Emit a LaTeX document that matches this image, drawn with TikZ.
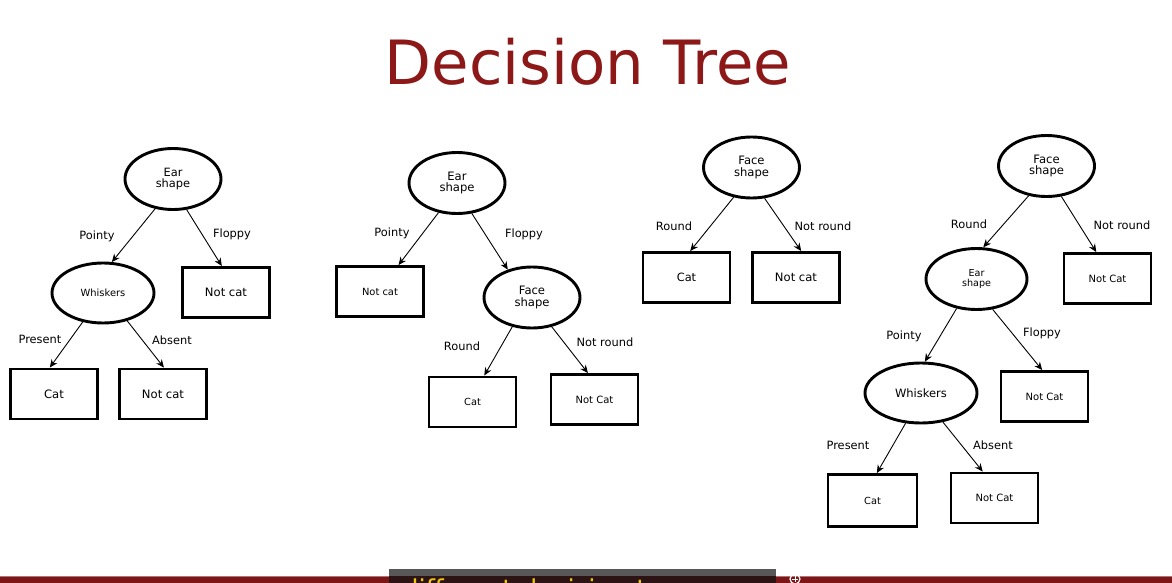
\documentclass[tikz,border=0pt]{standalone}
\usepackage{fontspec}
\setmainfont{DejaVu Sans}
\usetikzlibrary{shapes.geometric,arrows.meta}
\definecolor{titlered}{RGB}{140,24,24}
\definecolor{barred}{RGB}{125,22,22}
\definecolor{subdark}{RGB}{45,20,20}
\definecolor{subgrey}{RGB}{88,88,88}
\definecolor{subyellow}{RGB}{240,196,20}
\newcommand{\fs}[1]{\fontsize{#1}{\fpeval{#1*1.2}}\selectfont}
\tikzset{
  decision/.style={ellipse, draw, line width=2.9pt, minimum width=96pt, minimum height=61pt,
    inner sep=0pt, align=center, text=black},
  leafbox/.style={rectangle, draw, line width=2.9pt, minimum width=87pt, minimum height=50pt,
    inner sep=0pt, align=center, text=black},
  branch/.style={draw, line width=0.9pt, -{Stealth[length=8pt,width=7pt]}},
  edgelabel/.style={font=\fs{11.4}, text=black, inner sep=0pt}
}
\begin{document}
\begin{tikzpicture}[x=1pt,y=-1pt]
\useasboundingbox (0,0) rectangle (1172,583);
\fill[white] (0,0) rectangle (1172,583);

% heading
\node[text=titlered, font=\fs{61}, inner sep=0pt] (title) at (588,62) {Decision Tree};

% ---------- tree 1 ----------
\node[decision, font=\fs{11.4}] (e1) at (173,179) {Ear\\[-2pt]shape};
\node[decision, font=\fs{9.9}, minimum width=102pt, minimum height=60pt] (w1) at (103,293) {Whiskers};
\node[leafbox, font=\fs{11.6}] (n1) at (226,292.5) {Not cat};
\node[leafbox, font=\fs{11.6}] (c1) at (54,394) {Cat};
\node[leafbox, font=\fs{11.6}] (n1b) at (163,394) {Not cat};
\draw[branch] (e1.239) -- (w1.74);
\draw[branch] (e1.294) -- (n1.99);
\draw[branch] (w1.235) -- (c1.99);
\draw[branch] (w1.311) -- (n1b.88);
\node[edgelabel] (l1a) at (97,236) {Pointy};
\node[edgelabel] (l1b) at (232,234) {Floppy};
\node[edgelabel] (l1c) at (40,339) {Present};
\node[edgelabel] (l1d) at (172,340) {Absent};

% ---------- tree 2 ----------
\node[decision, font=\fs{11.6}] (e2) at (457,183) {Ear\\[-2pt]shape};
\node[leafbox, font=\fs{9.9}] (n2) at (380,291.5) {Not cat};
\node[decision, font=\fs{11.6}] (f2) at (532,297.5) {Face\\[-2pt]shape};
\node[leafbox, font=\fs{9.8}] (c2) at (472.5,402) {Cat};
\node[leafbox, font=\fs{10}] (n2b) at (594.5,399.5) {Not Cat};
\draw[branch] (e2.238) -- (n2.55);
\draw[branch] (e2.296) -- (f2.131);
\draw[branch] (f2.236) -- (c2.66);
\draw[branch] (f2.304) -- (n2b.104);
\node[edgelabel] (l2a) at (392,233) {Pointy};
\node[edgelabel] (l2b) at (524,234) {Floppy};
\node[edgelabel] (l2c) at (462,346) {Round};
\node[edgelabel] (l2d) at (605,342) {Not round};

% ---------- tree 3 ----------
\node[decision, font=\fs{11.6}] (f3) at (751.5,167.5) {Face\\[-2pt]shape};
\node[leafbox, font=\fs{11.4}] (c3) at (686.5,277.5) {Cat};
\node[leafbox, font=\fs{11.6}] (n3) at (796,277.5) {Not cat};
\draw[branch] (f3.239) -- (c3.82);
\draw[branch] (f3.293) -- (n3.79);
\node[edgelabel] (l3a) at (674,226) {Round};
\node[edgelabel] (l3b) at (823,226) {Not round};

% ---------- tree 4 ----------
\node[decision, font=\fs{11.6}] (f4) at (1046.5,166) {Face\\[-2pt]shape};
\node[decision, font=\fs{9.6}, minimum width=101pt] (e4) at (976.5,279) {Ear\\[-2pt]shape};
\node[leafbox, font=\fs{10}] (n4) at (1107.5,278.5) {Not Cat};
\node[decision, font=\fs{11.5}, minimum width=112pt, minimum height=60pt] (w4) at (921,393) {Whiskers};
\node[leafbox, font=\fs{10}] (n4b) at (1044.5,396.5) {Not Cat};
\node[leafbox, font=\fs{9.8}, minimum width=89pt, minimum height=52pt] (c4) at (872.5,500.5) {Cat};
\node[leafbox, font=\fs{10}] (n4c) at (994.5,498) {Not Cat};
\draw[branch] (f4.239) -- (e4.78);
\draw[branch] (f4.296) -- (n4.113);
\draw[branch] (e4.236) -- (w4.83);
\draw[branch] (e4.298) -- (n4b.95);
\draw[branch] (w4.243) -- (c4.81);
\draw[branch] (w4.307) -- (n4c.114);
\node[edgelabel] (l4a) at (969,224) {Round};
\node[edgelabel] (l4b) at (1122,225) {Not round};
\node[edgelabel] (l4c) at (904,336) {Pointy};
\node[edgelabel] (l4d) at (1042,333) {Floppy};
\node[edgelabel] (l4e) at (848,445) {Present};
\node[edgelabel] (l4f) at (993,445) {Absent};

% ---------- bottom strip with caption box ----------
\fill[barred] (0,576) rectangle (1172,583);
\fill[barred!60!white] (0,575.5) rectangle (1172,576.5);
\fill[subgrey] (389,569) rectangle (776,576);
\fill[subdark] (389,576) rectangle (776,583);
\begin{scope}
  \clip (389,576) rectangle (776,583);
  \node[anchor=base west, text=subyellow, font=\fs{26}, inner sep=0pt] (caption) at (402,598) {different decision trees};
\end{scope}
\draw[white, line width=1.2pt] (795,579) circle (5pt);
\draw[white, line width=1pt] (792,579) -- (798,579) (795,576) -- (795,582);
\end{tikzpicture}
\end{document}
